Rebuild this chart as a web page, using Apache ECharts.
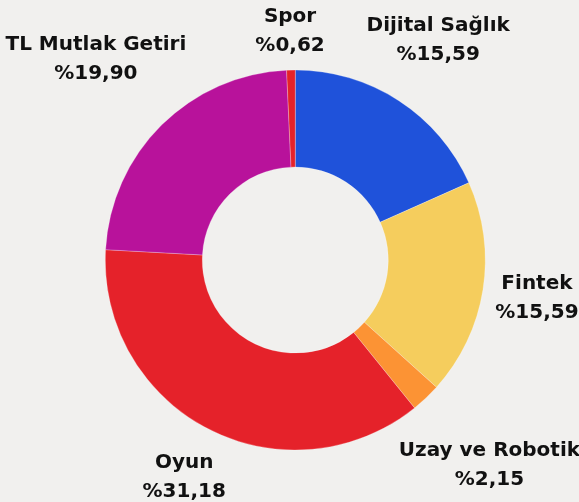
<!DOCTYPE html>
<html>
<head>
<meta charset="utf-8">
<style>
  html, body { margin: 0; padding: 0; background: #f1f0ee; }
  #chart { width: 579px; height: 502px; }
</style>
<script src="https://cdn.jsdelivr.net/npm/echarts@6/dist/echarts.min.js"></script>
</head>
<body>
<div id="chart"></div>
<script>
// fon dağılımı (yüzde)
const categories = ['Dijital Sağlık', 'Fintek', 'Uzay ve Robotik', 'Oyun', 'TL Mutlak Getiri', 'Spor']
const values = [15.59, 15.59, 2.15, 31.18, 19.90, 0.62]
const colors = ['#1f52da', '#f5cd5d', '#fc9334', '#e5222a', '#b8129b', '#e5222a']

const chart = echarts.init(document.getElementById('chart'))

// etiket ile dilim arasındaki boşluk
const labelGap = 9

const option = {
  backgroundColor: '#f1f0ee',
  series: [
    {
      type: 'pie',
      center: ['51%', '51.8%'],
      radius: [93, 190],
      startAngle: 90,
      clockwise: true,
      avoidLabelOverlap: false,
      itemStyle: {
        borderColor: 'rgba(255,255,255,0.5)',
        borderWidth: 0.5
      },
      label: {
        show: true,
        position: 'outside',
        fontFamily: 'DejaVu Sans',
        fontWeight: 'bold',
        fontSize: 20,
        lineHeight: 29,
        color: '#111',
        formatter: p => p.name + '\n%' + p.value.toFixed(2).replace('.', ',')
      },
      // çizgi görünmez, sadece yön hesabı için
      labelLine: {
        show: true,
        length: 10,
        length2: 0,
        lineStyle: { opacity: 0 }
      },
      labelLayout: params => {
        const pts = params.labelLinePoints
        if (!pts) return {}
        let ux = pts[1][0] - pts[0][0]
        let uy = pts[1][1] - pts[0][1]
        const len = Math.sqrt(ux * ux + uy * uy) || 1
        ux /= len
        uy /= len
        const hw = params.labelRect.width / 2
        const hh = params.labelRect.height / 2
        const t = labelGap + hw * Math.abs(ux) + hh * Math.abs(uy)
        return {
          x: pts[0][0] + ux * t,
          y: pts[0][1] + uy * t,
          align: 'center',
          verticalAlign: 'middle'
        }
      },
      data: categories.map((name, i) => ({
        name: name,
        value: values[i],
        itemStyle: { color: colors[i] }
      }))
    }
  ]
}

chart.setOption(option)
</script>
</body>
</html>
